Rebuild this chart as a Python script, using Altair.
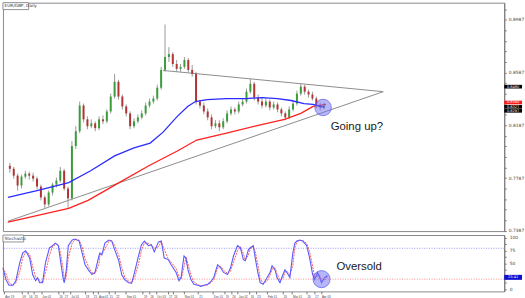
import json
import altair as alt
import pandas as pd

# ---------------- price candles (EUR/GBP daily, one candle per 3 sessions) ----------------
first_open = 0.7880
close = [0.7857, 0.7805, 0.7730, 0.7797, 0.7820, 0.7805, 0.7782, 0.7722, 0.7640, 0.7587,
         0.7677, 0.7737, 0.7767, 0.7842, 0.7707, 0.7632, 0.8030, 0.8142, 0.8337, 0.8232,
         0.8180, 0.8202, 0.8165, 0.8232, 0.8217, 0.8292, 0.8405, 0.8517, 0.8405, 0.8330,
         0.8277, 0.8180, 0.8217, 0.8247, 0.8277, 0.8337, 0.8367, 0.8390, 0.8472, 0.8607,
         0.8705, 0.8727, 0.8652, 0.8615, 0.8630, 0.8682, 0.8607, 0.8577, 0.8367, 0.8337,
         0.8292, 0.8247, 0.8180, 0.8202, 0.8172, 0.8217, 0.8277, 0.8307, 0.8292, 0.8345,
         0.8367, 0.8442, 0.8502, 0.8397, 0.8367, 0.8337, 0.8367, 0.8322, 0.8345, 0.8307,
         0.8277, 0.8247, 0.8307, 0.8352, 0.8427, 0.8480, 0.8442, 0.8420, 0.8390, 0.8337,
         0.8322, 0.8337]
high = [0.7902, 0.7872, 0.7820, 0.7812, 0.7842, 0.7835, 0.7827, 0.7797, 0.7737, 0.7655,
        0.7692, 0.7752, 0.7790, 0.7872, 0.7857, 0.7722, 0.8067, 0.8180, 0.8367, 0.8352,
        0.8255, 0.8232, 0.8217, 0.8255, 0.8262, 0.8307, 0.8427, 0.8577, 0.8532, 0.8420,
        0.8345, 0.8292, 0.8240, 0.8270, 0.8300, 0.8360, 0.8390, 0.8412, 0.8495, 0.8630,
        0.8952, 0.8780, 0.8742, 0.8682, 0.8652, 0.8705, 0.8697, 0.8645, 0.8592, 0.8382,
        0.8360, 0.8315, 0.8270, 0.8225, 0.8225, 0.8240, 0.8300, 0.8330, 0.8322, 0.8367,
        0.8390, 0.8465, 0.8540, 0.8517, 0.8420, 0.8390, 0.8390, 0.8382, 0.8367, 0.8360,
        0.8322, 0.8292, 0.8330, 0.8375, 0.8450, 0.8502, 0.8495, 0.8457, 0.8442, 0.8405,
        0.8360, 0.8360]
low = [0.7827, 0.7782, 0.7692, 0.7707, 0.7782, 0.7775, 0.7760, 0.7700, 0.7617, 0.7557,
       0.7572, 0.7655, 0.7715, 0.7752, 0.7692, 0.7557, 0.7617, 0.8007, 0.8127, 0.8210,
       0.8157, 0.8165, 0.8142, 0.8150, 0.8195, 0.8202, 0.8277, 0.8390, 0.8382, 0.8307,
       0.8255, 0.8157, 0.8165, 0.8202, 0.8232, 0.8262, 0.8322, 0.8352, 0.8375, 0.8457,
       0.8592, 0.8667, 0.8630, 0.8592, 0.8592, 0.8615, 0.8585, 0.8555, 0.8345, 0.8315,
       0.8270, 0.8225, 0.8157, 0.8165, 0.8142, 0.8157, 0.8202, 0.8262, 0.8270, 0.8277,
       0.8330, 0.8352, 0.8427, 0.8375, 0.8345, 0.8315, 0.8322, 0.8300, 0.8307, 0.8285,
       0.8255, 0.8225, 0.8232, 0.8292, 0.8337, 0.8412, 0.8420, 0.8397, 0.8375, 0.8315,
       0.8300, 0.8307]

# moving averages (blue = fast, red = slow)
blue_days = [0, 22.5, 47, 64, 82.5, 97.5, 110, 120, 131, 139, 145, 154, 169, 184, 196.5,
             208.5, 219, 229, 236, 244.5]
blue_vals = [0.7640, 0.7692, 0.7752, 0.7842, 0.7955, 0.8015, 0.8052, 0.8135, 0.8255, 0.8330,
             0.8367, 0.8382, 0.8390, 0.8390, 0.8397, 0.8390, 0.8375, 0.8352, 0.8345, 0.8322]
red_days = [0, 47, 62, 86, 109, 131, 146, 169, 193.5, 214, 226.5, 236, 246]
red_vals = [0.7452, 0.7557, 0.7617, 0.7752, 0.7880, 0.7992, 0.8075, 0.8127, 0.8187, 0.8232,
            0.8277, 0.8330, 0.8345]

# triangle trend lines
trend_seg = ["low", "low", "high", "high"]
trend_days = [0, 290.25, 120, 290.25]
trend_vals = [0.7459, 0.8442, 0.8603, 0.8442]

# stochastic %K
stoch_days = [0, 2.25, 4.5, 7.5, 9.75, 12.75, 15, 17.25, 20.25, 22.5,
              24.75, 26.25, 27.75, 30, 32.25, 35.25, 37.5, 39.75, 42, 43.5,
              45.75, 46.5, 48, 49.5, 52.5, 54.75, 57.75, 60, 62.25, 65.25,
              67.5, 69.75, 72.75, 73.5, 75, 77.25, 80.25, 82.5, 84.75, 87.75,
              90, 92.25, 95.25, 97.5, 99.75, 102.75, 105, 107.25, 110.25, 112.5,
              114.75, 117.75, 120, 122.25, 125.25, 127.5, 131.25, 133.5, 135, 137.25,
              138.75, 140.25, 142.5, 144.75, 147.75, 150, 152.25, 155.25, 157.5, 159.75,
              161.25, 162.75, 165, 167.25, 170.25, 172.5, 174.75, 177.75, 180, 182.25,
              183.75, 186, 187.5, 189.75, 191.25, 193.5, 195, 197.25, 200.25, 202.5,
              204, 206.25, 207.75, 210, 212.25, 213.75, 215.25, 217.5, 219.75, 221.25,
              222.75, 225, 227.25, 230.25, 232.5, 234.75, 236.25, 238.5, 240, 241.5,
              243.75, 246]
stoch_k = [42, 19, 8, 8, 17, 52, 71, 75, 61, 29,
           17, 23, 13, 13, 52, 81, 85, 90, 85, 58,
           19, 13, 38, 85, 96, 98, 94, 71, 48, 36,
           29, 33, 65, 71, 67, 90, 96, 94, 77, 56,
           29, 19, 13, 12, 33, 65, 87, 94, 85, 87,
           73, 92, 94, 61, 58, 48, 33, 17, 23, 65,
           61, 38, 19, 10, 8, 6, 8, 10, 15, 23,
           36, 48, 42, 33, 29, 42, 65, 85, 81, 58,
           56, 77, 81, 85, 61, 29, 13, 10, 23, 33,
           46, 38, 23, 13, 29, 38, 33, 23, 71, 90,
           94, 96, 94, 85, 61, 29, 19, 33, 23, 13,
           23, 27]

# axis labels
price_majors = [0.8987, 0.8587, 0.8187, 0.7787, 0.7387]
date_days = [1, 14, 19, 23, 29, 42, 46, 51, 62, 68, 72, 80, 85, 93, 106, 111, 116, 125,
             129, 137, 148, 159, 168, 173, 178, 187, 192, 200, 212, 219, 230, 236, 241]
date_labels = ["Apr 19", "09", "16", "23", "Jun 01", "20", "27", "Jul 01", "18", "25",
               "Aug 01", "15", "22", "Sep 01", "19", "26", "Oct 03", "17", "24", "Nov 01",
               "21", "Dec 01", "19", "26", "Jan 02", "16", "23", "Feb 01", "20", "Mar 01",
               "20", "27", "Apr 03"]

# price tags on the right scale
tag_prices = [0.8480, 0.8360, 0.8327, 0.8297]
tag_colors = ["#000000", "#ff1a1a", "#000000", "#000000"]
tag_texts = ["0.8480", "0.8360", "0.8327", "0.8297"]

# ---------------- layout ----------------
W, H1, H2 = 507, 231, 57
XDOM = [0, 380]
PDOM = [0.73845, 0.9117]
SDOM = [-3.85, 105.77]
GREEN, RED = "#3a9d3a", "#b23333"
FONT = "DejaVu Sans"

n = len(close)
cdf = pd.DataFrame({
    "day": [1.5 + 3 * k for k in range(n)],
    "open": [first_open] + close[:-1],
    "close": close, "high": high, "low": low,
})

top_ticks = [round(0.7387 + 0.008 * i, 4) for i in range(22)]
majors_int = [int(round(v * 10000)) for v in price_majors]
yaxis_top = alt.Axis(
    orient="right", values=top_ticks, title=None, grid=False,
    labelExpr=f"indexof({majors_int}, round(datum.value*10000)) >= 0 ? format(datum.value, '.4f') : ''",
    labelFontSize=4.5, labelColor="#444", labelFont=FONT, labelPadding=2,
    tickSize=2, tickColor="#777", domainColor="#777", labelOverlap=False, labelFlush=False,
)
xs_top = alt.X("day:Q", scale=alt.Scale(domain=XDOM, nice=False, zero=False), axis=None)


def ytop(field):
    return alt.Y(field, type="quantitative",
                 scale=alt.Scale(domain=PDOM, nice=False, zero=False), axis=yaxis_top)


wicks = alt.Chart(cdf).mark_rule(color="#9a9a9a", strokeWidth=1).encode(
    x=xs_top, y=ytop("low"), y2="high")
bodies = alt.Chart(cdf).mark_bar(size=2.0).encode(
    x=xs_top, y=ytop("open"), y2="close",
    color=alt.condition("datum.close >= datum.open", alt.value(GREEN), alt.value(RED)))

trend = alt.Chart(pd.DataFrame({"seg": trend_seg, "day": trend_days, "price": trend_vals})).mark_line(
    color="#8c8c8c", strokeWidth=1).encode(x=xs_top, y=ytop("price"), detail="seg:N")
red_ma = alt.Chart(pd.DataFrame({"day": red_days, "price": red_vals})).mark_line(
    color="#ff2020", strokeWidth=1.3).encode(x=xs_top, y=ytop("price"))
blue_ma = alt.Chart(pd.DataFrame({"day": blue_days, "price": blue_vals})).mark_line(
    color="#2b2bff", strokeWidth=1.3).encode(x=xs_top, y=ytop("price"))

circ_top = alt.Chart(pd.DataFrame({"day": [243.75], "price": [0.8322]})).mark_point(
    shape="circle", filled=True, size=280, fill="#6e6ef2", fillOpacity=0.5,
    stroke="#5050ee", strokeWidth=0.8, strokeOpacity=0.8).encode(x=xs_top, y=ytop("price"))
txt_top = alt.Chart(pd.DataFrame({"day": [249.6], "price": [0.8150], "t": ["Going up?"]})).mark_text(
    align="left", baseline="alphabetic", fontSize=11.5, font="Liberation Sans", color="#1a1a1a").encode(
    x=xs_top, y=ytop("price"), text="t:N")

tdf = pd.DataFrame({"price": tag_prices, "col": tag_colors, "label": tag_texts})
tdf["lo"] = tdf["price"] - 0.0014
tdf["hi"] = tdf["price"] + 0.0014
tag_rect = alt.Chart(tdf).mark_rect().encode(
    x=alt.value(W), x2=alt.value(W + 18), y=ytop("lo"), y2="hi",
    color=alt.Color("col:N", scale=None))
tag_text = alt.Chart(tdf).mark_text(fontSize=3.6, color="white", align="center", baseline="middle",
                                    font=FONT).encode(x=alt.value(W + 9), y=ytop("price"), text="label:N")

one = pd.DataFrame({"t": ["EUR/GBP, Daily"]})
title_box = alt.Chart(one).mark_rect(fill="white", stroke="#777", strokeWidth=0.8).encode(
    x=alt.value(0), x2=alt.value(26), y=alt.value(0), y2=alt.value(7))
title_txt = alt.Chart(one).mark_text(align="left", baseline="middle", fontSize=4.3, color="#333",
                                     font=FONT).encode(x=alt.value(1.5), y=alt.value(3.7), text="t:N")

top = alt.layer(trend, wicks, bodies, red_ma, blue_ma, circ_top, txt_top, tag_rect, tag_text,
                title_box, title_txt).properties(width=W, height=H1)

# ---------------- stochastic panel ----------------
sdf = pd.DataFrame({"day": stoch_days, "k": stoch_k})
sdf["d"] = [stoch_k[0]] + [(stoch_k[i - 1] + stoch_k[i]) / 2 for i in range(1, len(stoch_k))]

xaxis_bot = alt.Axis(
    orient="bottom", values=date_days, title=None, grid=False, domain=False,
    labelExpr=f"{json.dumps(date_labels)}[indexof({json.dumps(date_days)}, datum.value)]",
    labelFontSize=3.0, labelColor="#444", labelFont="Liberation Sans", labelAlign="left",
    labelOffset=0.6, labelPadding=1.5, tickSize=2.5, tickColor="#777",
    labelOverlap=False, labelFlush=False,
)
xs_bot = alt.X("day:Q", scale=alt.Scale(domain=XDOM, nice=False, zero=False), axis=xaxis_bot)
yaxis_bot = alt.Axis(
    orient="right", values=[0, 12.5, 25, 37.5, 50, 62.5, 75, 87.5, 100], title=None, grid=False,
    labelExpr="indexof([0, 50, 75, 100], datum.value) >= 0 ? format(datum.value, 'd') : ''",
    labelFontSize=4.5, labelColor="#444", labelFont=FONT, labelPadding=3,
    tickSize=2, tickColor="#777", domainColor="#777", labelOverlap=False, labelFlush=False,
)


def ybot(field):
    return alt.Y(field, type="quantitative",
                 scale=alt.Scale(domain=SDOM, nice=False, zero=False), axis=yaxis_bot)


lv80 = alt.Chart(pd.DataFrame({"lv": [80]})).mark_rule(
    color="#8080ff", strokeWidth=0.8, strokeDash=[1, 1.5]).encode(y=ybot("lv"))
lv20 = alt.Chart(pd.DataFrame({"lv": [20]})).mark_rule(
    color="#ff7070", strokeWidth=0.8, strokeDash=[1, 1.5]).encode(y=ybot("lv"))
kline = alt.Chart(sdf).mark_line(color="#5a5aff", strokeWidth=1.1).encode(x=xs_bot, y=ybot("k"))
dline = alt.Chart(sdf).mark_line(color="#ff5a5a", strokeWidth=1.0, strokeDash=[2, 1]).encode(
    x=xs_bot, y=ybot("d"))
circ_bot = alt.Chart(pd.DataFrame({"day": [241.5], "v": [20]})).mark_point(
    shape="circle", filled=True, size=300, fill="#6e6ef2", fillOpacity=0.5,
    stroke="#5050ee", strokeWidth=0.8, strokeOpacity=0.8).encode(x=xs_bot, y=ybot("v"))
txt_bot = alt.Chart(pd.DataFrame({"day": [252.75], "v": [38.5], "t": ["Oversold"]})).mark_text(
    align="left", baseline="alphabetic", fontSize=11.5, font="Liberation Sans", color="#1a1a1a").encode(
    x=xs_bot, y=ybot("v"), text="t:N")
stag = pd.DataFrame({"lo": [18.6], "hi": [28.3], "v": [23.4], "label": ["23.41"]})
stag_rect = alt.Chart(stag).mark_rect(color="#1010d0").encode(
    x=alt.value(W), x2=alt.value(W + 18), y=ybot("lo"), y2="hi")
stag_text = alt.Chart(stag).mark_text(fontSize=3.6, color="white", align="center", baseline="middle",
                                      font=FONT).encode(x=alt.value(W + 9), y=ybot("v"), text="label:N")
one2 = pd.DataFrame({"t": ["Stochastic"]})
sbox = alt.Chart(one2).mark_rect(fill="white", stroke="#777", strokeWidth=0.8).encode(
    x=alt.value(0), x2=alt.value(21), y=alt.value(0), y2=alt.value(7))
stxt = alt.Chart(one2).mark_text(align="left", baseline="middle", fontSize=4.3, color="#333",
                                 font=FONT).encode(x=alt.value(1.5), y=alt.value(3.7), text="t:N")

bot = alt.layer(lv80, lv20, dline, kline, circ_bot, txt_bot, stag_rect, stag_text, sbox, stxt).properties(
    width=W, height=H2)

chart = alt.vconcat(top, bot, spacing=1).properties(
    padding={"left": 0, "top": 0, "right": 0, "bottom": 0}, background="white"
).configure_view(stroke="#8a8a8a", strokeWidth=1)

chart.save("out.html", embed_options={"renderer": "svg", "actions": False})
